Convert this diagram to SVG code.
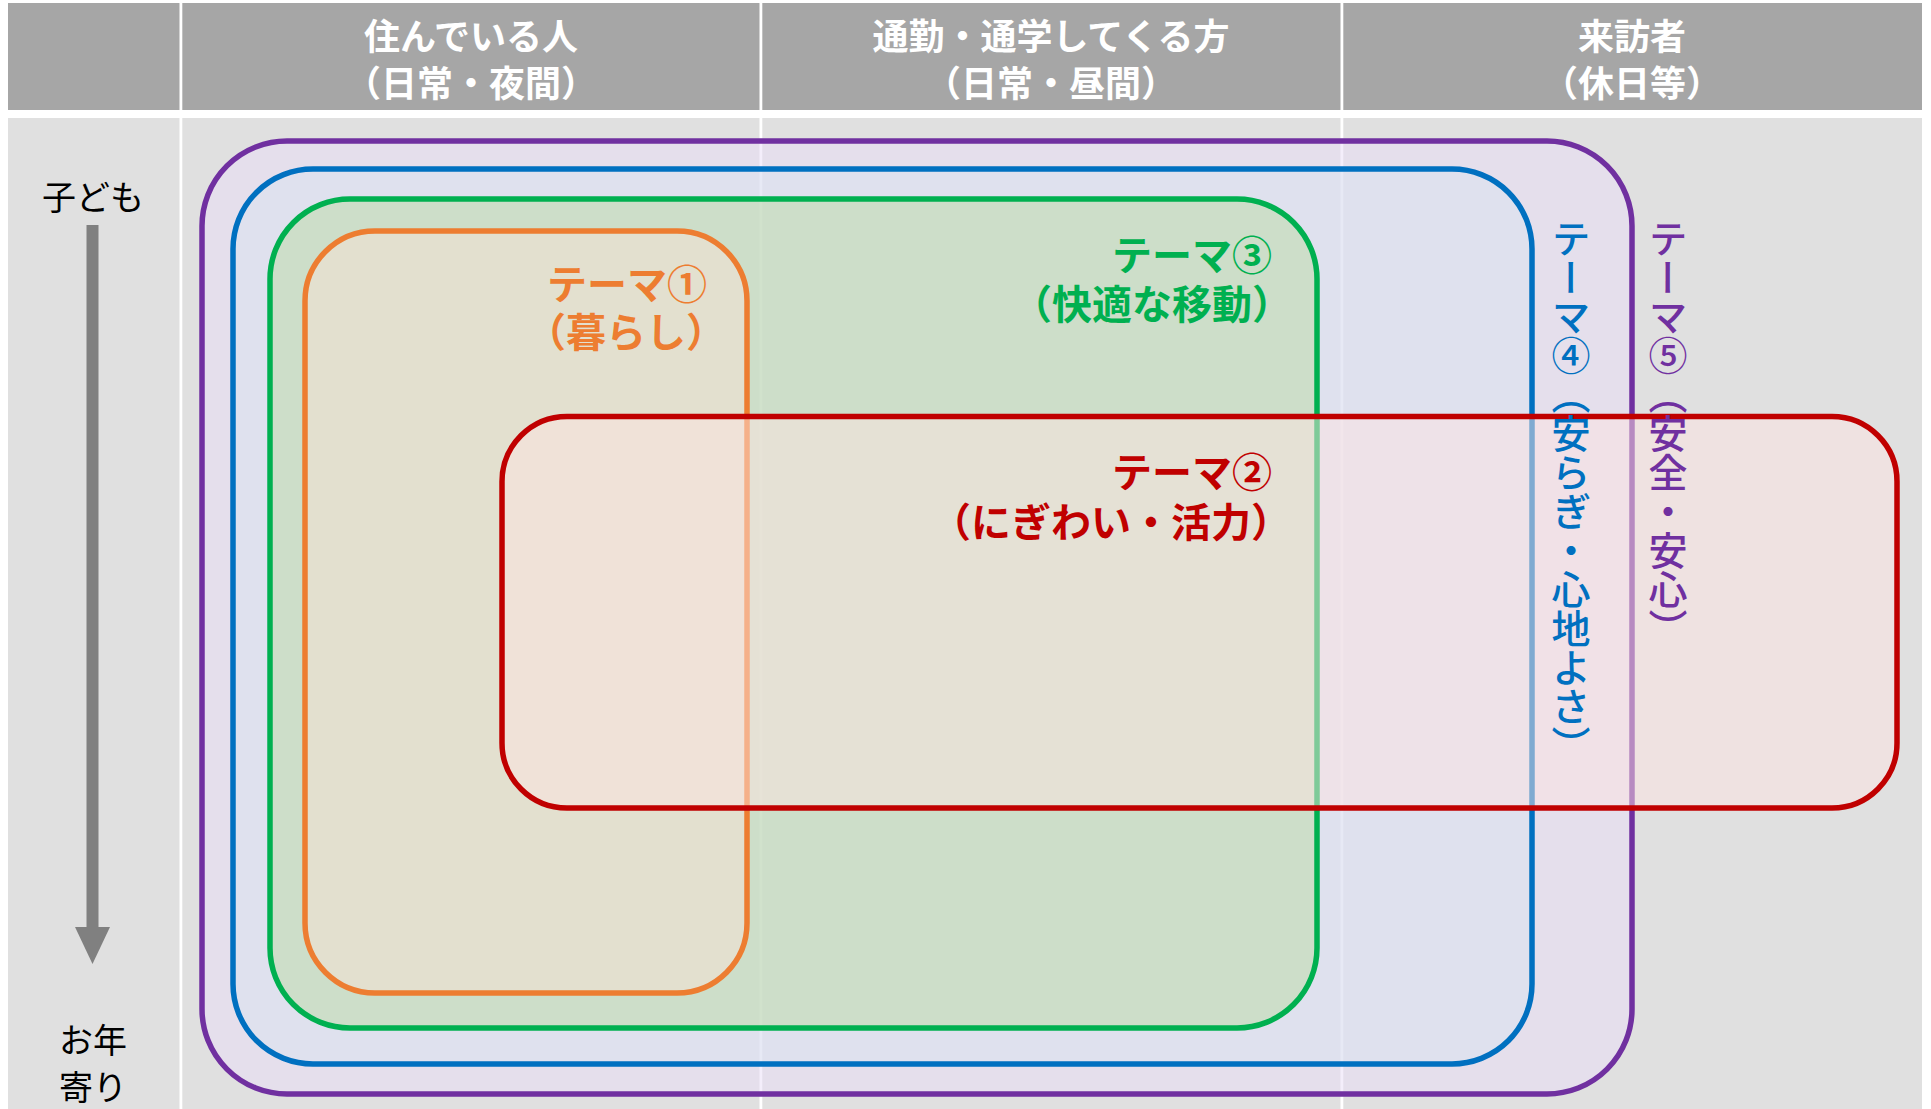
<svg xmlns="http://www.w3.org/2000/svg" width="1931" height="1109" viewBox="0 0 1931 1109">
  <style>
    .hdr { font-family: "Noto Sans CJK JP", "Noto Sans", sans-serif; font-weight: bold; font-size: 36px; fill: #ffffff; text-anchor: middle; }
    .side { font-family: "Noto Sans CJK JP", "Noto Sans", sans-serif; font-size: 34px; fill: #000000; text-anchor: middle; }
    .theme { font-family: "Noto Sans CJK JP", "Noto Sans", sans-serif; font-weight: bold; font-size: 40px; }
    .vtheme { font-family: "Noto Sans CJK JP", "Noto Sans", sans-serif; font-weight: 500; font-size: 39px; writing-mode: vertical-rl; }
    .box { stroke-width: 5.5; }
  </style>
  <defs>
    <marker id="arrowHead" viewBox="0 0 37 35" refX="0" refY="17.5" markerWidth="37" markerHeight="35" markerUnits="userSpaceOnUse" orient="auto">
      <polygon points="0,0 37,17.5 0,35" fill="#808080"/>
    </marker>
  </defs>
  <rect x="0" y="0" width="1931" height="1109" fill="#ffffff"/>

  <g id="table">
    <rect x="8" y="3" width="1914" height="107" fill="#a6a6a6"/>
    <rect x="8" y="118" width="1914" height="991" fill="#e0e0e0"/>
    <rect x="179.5" y="3" width="2.8" height="1106" fill="#ffffff"/>
    <rect x="759.5" y="3" width="2.8" height="1106" fill="#ffffff"/>
    <rect x="1340.5" y="3" width="2.8" height="1106" fill="#ffffff"/>
  </g>

  <g id="header-residents">
    <text class="hdr"><tspan x="471" y="50">住んでいる人</tspan><tspan x="471" y="97">（日常・夜間）</tspan></text>
  </g>
  <g id="header-commuters">
    <text class="hdr"><tspan x="1051" y="50">通勤・通学してくる方</tspan><tspan x="1051" y="97">（日常・昼間）</tspan></text>
  </g>
  <g id="header-visitors">
    <text class="hdr"><tspan x="1632" y="50">来訪者</tspan><tspan x="1632" y="97">（休日等）</tspan></text>
  </g>

  <g id="age-axis">
    <text class="side" x="93" y="210">子ども</text>
    <text class="side"><tspan x="93" y="1053">お年</tspan><tspan x="93" y="1100">寄り</tspan></text>
  </g>

  <g id="connectors">
    <line x1="92.5" y1="225" x2="92.5" y2="927" stroke="#808080" stroke-width="12" marker-end="url(#arrowHead)"/>
  </g>

  <g id="theme5">
    <rect class="box" x="202" y="141" width="1430" height="953" rx="85" ry="85" fill="#eadef8" fill-opacity="0.5" stroke="#7030a0"/>
  </g>
  <g id="theme4">
    <rect class="box" x="233" y="169" width="1299" height="895" rx="80" ry="80" fill="#d9e3f0" fill-opacity="0.5" stroke="#0070c0"/>
  </g>
  <g id="theme3">
    <rect class="box" x="270" y="199" width="1047" height="829" rx="80" ry="80" fill="#bbdba4" fill-opacity="0.5" stroke="#00b050"/>
  </g>
  <g id="theme1">
    <rect class="box" x="305" y="231" width="442" height="762" rx="70" ry="70" fill="#f9e2d5" fill-opacity="0.5" stroke="#ed7d31"/>
  </g>
  <g id="theme2">
    <rect class="box" x="502" y="416.5" width="1395" height="391.5" rx="65" ry="65" fill="#fde4e1" fill-opacity="0.5" stroke="#c00000"/>
  </g>

  <g id="labels">
    <text class="theme" text-anchor="middle" fill="#ed7d31"><tspan x="627" y="299">テーマ①</tspan><tspan x="626" y="347">（暮らし）</tspan></text>
    <text class="theme" text-anchor="end" fill="#00b050"><tspan x="1272" y="270">テーマ③</tspan><tspan x="1292" y="319">（快適な移動）</tspan></text>
    <text class="theme" text-anchor="end" fill="#c00000"><tspan x="1272" y="487">テーマ②</tspan><tspan x="1291" y="537">（にぎわい・活力）</tspan></text>
    <text class="vtheme" x="1571" y="219" fill="#0070c0">テーマ④（安らぎ・心地よさ）</text>
    <text class="vtheme" x="1668" y="219" fill="#7030a0">テーマ⑤（安全・安心）</text>
  </g>
</svg>
